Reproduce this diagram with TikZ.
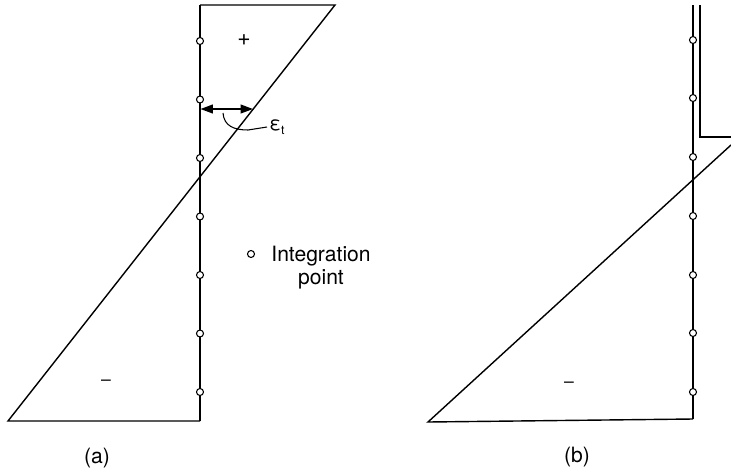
\documentclass[tikz,border=0pt]{standalone}
\usepackage{fontspec}
\setsansfont{TeX Gyre Heros}
\usetikzlibrary{arrows.meta}

\begin{document}
\begin{tikzpicture}[
    x=0.2mm, y=-0.2mm,
    line width=0.8pt,
    every node/.style={font=\sffamily\fontsize{12}{13}\selectfont},
    ipoint/.style={circle, draw, fill=white, line width=0.6pt, inner sep=0pt, minimum size=4pt}
]
\useasboundingbox (0,0) rectangle (731,475);

% (a) strain block over the depth
\draw (200,5) -- (200,421);
\draw (200,5) -- (335,5) -- (8,421) -- (200,421);

% Integration points along the axis
\foreach \y [count=\i] in {41,99.5,158,216.5,275,333.5,392} {
    \node[ipoint] (ia\i) at (200,\y) {};
}

% Signs
\node (plusA) at (244,40) {\fontsize{13}{13}\selectfont +};
\node (minusA) at (106,383) {\fontsize{10}{10}\selectfont \textendash};

% Strain arrow with leader to label
\coordinate (axA) at (200.5,109);
\coordinate (slA) at (253,109);
\draw[<->, >={Triangle[length=7pt,width=5pt]}] (axA) -- (slA);
\node[right, inner sep=1pt] (eps) at (267,127) {\fontsize{11}{11}\selectfont ε\raisebox{-0.45ex}{\fontsize{7}{7}\selectfont t}};
\draw[line width=0.6pt] (223,113) .. controls (224,126) and (234,130) .. (248,130) -- (eps.west);

% Legend
\node[ipoint] (legpt) at (251,254) {};
\node[align=center] (legtxt) at (321,268) {Integration\\ point};

\node (labA) at (97,458) {(a)};

% (b) strain block with tension part
\draw (693,5) -- (693,419);
\draw (700,5) -- (700,137) -- (731,137);
\draw (731,145) -- (428,422) -- (693,419);

\foreach \y [count=\i] in {40,98,157,216,275,333,392} {
    \node[ipoint] (ib\i) at (693,\y) {};
}

\node (minusB) at (569,385) {\fontsize{10}{10}\selectfont \textendash};
\node (labB) at (577,457) {(b)};

\end{tikzpicture}
\end{document}
